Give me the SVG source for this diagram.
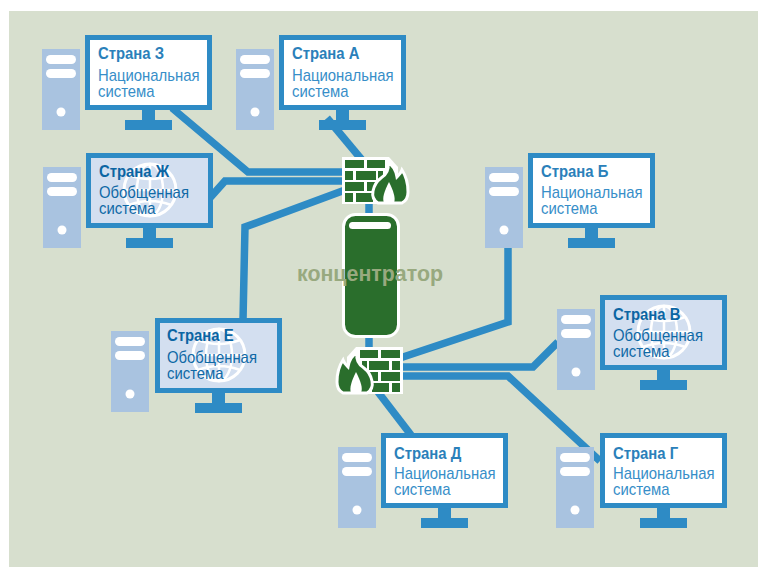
<svg xmlns="http://www.w3.org/2000/svg" xmlns:xlink="http://www.w3.org/1999/xlink" width="758" height="567" viewBox="0 0 758 567">
<style>
text{font-family:"Liberation Sans",Arial,sans-serif}
.t{font-size:16px;font-weight:bold}
.s{font-size:16px}
.n .t{fill:#2a80ba}.n .s{fill:#378ec8}
.g .t{fill:#0b65a3}.g .s{fill:#0f69a6}
.wire{fill:none;stroke:#2e8bc5;stroke-width:7.500;stroke-linejoin:miter}
.screen{stroke:#2e8bc5;stroke-width:5}
.blue{fill:#2e8bc5}
.tower{fill:#a9c3e0}
.w{fill:#fff}
.brick{fill:#2a6e2c}
</style>
<defs>
<g id="tower"><rect class="tower" width="38" height="81"/><rect class="w" x="4" y="6" width="30" height="9" rx="4.500"/><rect class="w" x="4" y="20" width="30" height="9" rx="4.500"/><circle class="w" cx="19" cy="63" r="4.500"/></g>
<g id="base"><rect class="blue" x="57" y="75" width="13" height="11"/><rect class="blue" x="40" y="85" width="47" height="10"/></g>
<g id="natm"><rect class="screen" x="2.500" y="2.500" width="122" height="70" fill="#fff"/><use xlink:href="#base"/></g>
<g id="genm"><rect class="screen" x="2.500" y="2.500" width="122" height="70" fill="#d3dff0"/><use xlink:href="#base"/>
<g fill="none" stroke="#fff" stroke-width="2.500"><circle cx="64" cy="37" r="26" stroke-width="3"/><ellipse cx="64" cy="37" rx="13" ry="26"/><path d="M64 11V63M38 37H90M43 22Q64 30 85 22M43 52Q64 44 85 52"/></g></g>
<g id="fw">
<path class="w" d="M342 157H389L398 167V204H342Z"/>
<path class="brick" d="M345 160h19v8h-19zM367 160h18v8h-18zM345 171h8v9h-8zM356 171h20v9h-20zM378 171h5v9h-5zM345 182h19v9h-19zM367 182h8v9h-8zM345 193h8v9h-8zM356 193h17v9h-17z"/>
<path class="brick" stroke="#fff" stroke-width="3" d="M378 203C373 200 372 196 373 191C374 186 377 181 381 178C386 175 389 170 388 163C393 165 396 171 397 177C399 175 401 173 402 170C406 176 408 184 408 192C408 197 406 201 402 203Z"/>
<path class="w" d="M384 203C382 198 384 192 389 182C393 190 396 198 394 203Z"/>
</g>
</defs>
<rect x="9" y="11" width="749" height="556" fill="#d7dfce"/>
<g id="connectors" class="wire">
<path d="M172 108L248 172H345"/>
<path d="M327 118L362 160"/>
<path d="M208 200L225 181H345"/>
<path d="M243 320L245 227L345 190"/>
<path d="M369 203V216"/>
<path d="M369 335V350"/>
<path d="M508 248V322L400 358"/>
<path d="M558 342L533 367H400"/>
<path d="M600 461L508 376H400"/>
<path d="M378 392L411 435"/>
</g>
<g id="hub">
<use xlink:href="#fw"/>
<use xlink:href="#fw" transform="translate(745 190) scale(-1 1)"/>
<rect x="343.500" y="214.500" width="55" height="122" rx="12" fill="#2a6e2c" stroke="#fff" stroke-width="3"/>
<rect class="w" x="349" y="222" width="42" height="7" rx="3.500"/>
<text x="297" y="281" font-size="22" font-weight="bold" fill="#98a97f" textLength="146" lengthAdjust="spacingAndGlyphs">концентратор</text>
</g>
<g id="country-z" class="n" transform="translate(85 35)"><use xlink:href="#natm"/><g transform="translate(13 0) scale(.93 1)"><text class="t" y="24">Страна З</text><text class="s" y="46">Национальная</text><text class="s" y="62">система</text></g><use xlink:href="#tower" x="-43" y="14"/></g>
<g id="country-a" class="n" transform="translate(279 35)"><use xlink:href="#natm"/><g transform="translate(13 0) scale(.93 1)"><text class="t" y="24">Страна А</text><text class="s" y="46">Национальная</text><text class="s" y="62">система</text></g><use xlink:href="#tower" x="-43" y="14"/></g>
<g id="country-zh" class="g" transform="translate(86 153)"><use xlink:href="#genm"/><g transform="translate(13 0) scale(.93 1)"><text class="t" y="24">Страна Ж</text><text class="s" y="45">Обобщенная</text><text class="s" y="61">система</text></g><use xlink:href="#tower" x="-43" y="14"/></g>
<g id="country-b" class="n" transform="translate(528 153)"><use xlink:href="#natm"/><g transform="translate(13 0) scale(.93 1)"><text class="t" y="24">Страна Б</text><text class="s" y="45">Национальная</text><text class="s" y="61">система</text></g><use xlink:href="#tower" x="-43" y="14"/></g>
<g id="country-e" class="g" transform="translate(155 318)"><use xlink:href="#genm"/><g transform="translate(12 0) scale(.93 1)"><text class="t" y="23">Страна Е</text><text class="s" y="45">Обобщенная</text><text class="s" y="61">система</text></g><use xlink:href="#tower" x="-44" y="13"/></g>
<g id="country-v" class="g" transform="translate(600 295)"><use xlink:href="#genm"/><g transform="translate(13 0) scale(.93 1)"><text class="t" y="25">Страна В</text><text class="s" y="46">Обобщенная</text><text class="s" y="62">система</text></g><use xlink:href="#tower" x="-43" y="14"/></g>
<g id="country-d" class="n" transform="translate(381 433)"><use xlink:href="#natm"/><g transform="translate(13 0) scale(.93 1)"><text class="t" y="26">Страна Д</text><text class="s" y="46">Национальная</text><text class="s" y="62">система</text></g><use xlink:href="#tower" x="-43" y="14"/></g>
<g id="country-g" class="n" transform="translate(600 433)"><use xlink:href="#natm"/><g transform="translate(13 0) scale(.93 1)"><text class="t" y="26">Страна Г</text><text class="s" y="46">Национальная</text><text class="s" y="62">система</text></g><use xlink:href="#tower" x="-44" y="14"/></g>
</svg>
